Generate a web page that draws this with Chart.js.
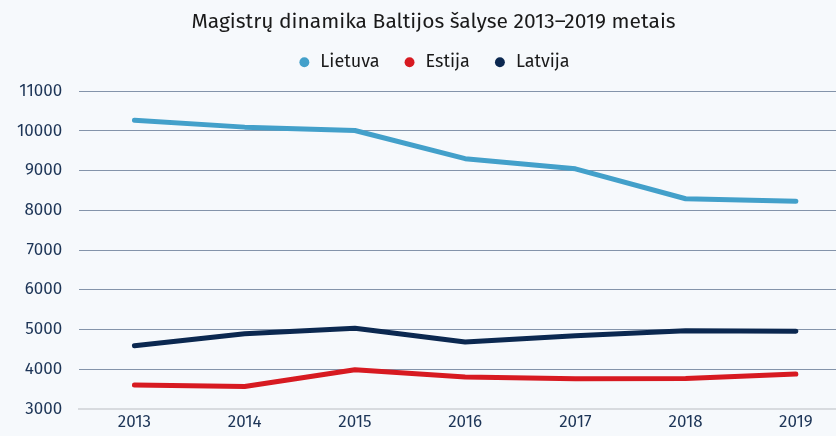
<!DOCTYPE html>
<html>
<head>
<meta charset="utf-8">
<script src="https://cdn.jsdelivr.net/npm/chart.js@4/dist/chart.umd.min.js"></script>
<style>
  html, body { margin: 0; padding: 0; background: #f6f9fc; overflow: hidden; }
  #wrap { position: absolute; left: 0; top: 0; width: 867px; height: 436px; }
</style>
</head>
<body>
<div id="wrap"><canvas id="c"></canvas></div>
<script>
const years = ['2013', '2014', '2015', '2016', '2017', '2018', '2019'];
const lietuva = [10270, 10095, 10010, 9300, 9045, 8290, 8225];
const estija = [3600, 3560, 3985, 3800, 3755, 3765, 3875];
const latvija = [4590, 4890, 5030, 4680, 4840, 4965, 4955];
const yTicks = { min: 3000, max: 11000, step: 1000 };
const titleText = 'Magistrų dinamika Baltijos šalyse 2013–2019 metais';

const FONT = "'Fira Sans', 'Open Sans', sans-serif";

const legendMargin = {
  id: 'legendMargin',
  beforeInit(chart) {
    const origFit = chart.legend.fit;
    chart.legend.fit = function () {
      origFit.call(this);
      this.height += 10;
    };
  }
};

new Chart(document.getElementById('c'), {
  type: 'line',
  data: {
    labels: years,
    datasets: [
      { label: 'Lietuva', data: lietuva, borderColor: '#43a0ca', backgroundColor: '#43a0ca' },
      { label: 'Estija', data: estija, borderColor: '#d71a21', backgroundColor: '#d71a21' },
      { label: 'Latvija', data: latvija, borderColor: '#0b2850', backgroundColor: '#0b2850' }
    ].map(d => Object.assign(d, {
      borderWidth: 5, pointRadius: 0, pointHoverRadius: 0, tension: 0,
      borderCapStyle: 'round', borderJoinStyle: 'round', fill: false
    }))
  },
  plugins: [legendMargin],
  options: {
    responsive: true,
    maintainAspectRatio: false,
    animation: false,
    layout: { padding: { left: 0, right: 0, top: 10, bottom: 0 } },
    plugins: {
      title: {
        display: true, text: titleText, color: '#1a1a1a',
        font: { family: FONT, size: 21, weight: 'normal' },
        padding: { top: 0, bottom: -5 }
      },
      legend: {
        display: true,
        labels: {
          usePointStyle: true, pointStyle: 'circle', boxWidth: 14, boxHeight: 7,
          color: '#1a1a1a', padding: 23,
          font: { family: FONT, size: 18 },
          generateLabels(chart) {
            const items = Chart.defaults.plugins.legend.labels.generateLabels(chart);
            items.forEach(it => { it.lineWidth = 0; });
            return items;
          }
        }
      },
      tooltip: { enabled: false }
    },
    scales: {
      x: {
        offset: true,
        grid: { display: false, drawTicks: false },
        border: { display: true, color: '#d8dbdf', width: 2 },
        ticks: { color: '#1d3557', padding: 3, font: { family: FONT, size: 17 } }
      },
      y: {
        min: yTicks.min, max: yTicks.max,
        grid: { color: '#8494aa', lineWidth: 1, drawTicks: false },
        border: { display: false },
        ticks: {
          stepSize: yTicks.step, color: '#1d3557', padding: 17,
          font: { family: FONT, size: 17 },
          callback: v => String(v)
        }
      },
      yRight: {
        position: 'right',
        min: yTicks.min, max: yTicks.max,
        grid: { display: false, drawTicks: false },
        border: { display: false },
        ticks: { display: false },
        afterFit(scale) { scale.width = 16; }
      }
    }
  }
});
</script>
</body>
</html>
